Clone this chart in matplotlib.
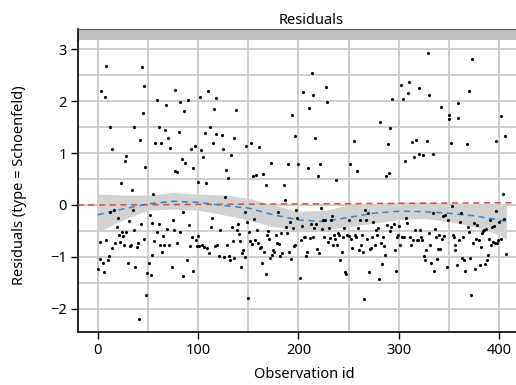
import matplotlib
matplotlib.use("Agg")
import matplotlib.pyplot as plt

plt.rcParams['font.family'] = ['Noto Sans', 'DejaVu Sans']

# Schoenfeld residuals (observation id, residual)
obs_id = [0, 3, 2, 2, 5, 7, 6, 8, 8, 10, 11, 12, 12, 14, 14, 16, 17, 19, 20, 21,
          22, 23, 24, 25, 26, 27, 28, 28, 30, 31, 32, 33, 34, 35, 36, 36, 37, 39, 40, 41,
          42, 43, 44, 45, 46, 46, 47, 48, 49,
          51, 52, 53, 54, 54, 55, 56, 57, 59, 59, 61, 61, 62, 63, 64, 65, 66, 67, 68, 69,
          70, 71, 72, 74, 75, 76, 77, 77, 79, 79, 81, 82, 82, 84, 85, 85, 86, 87, 89, 90,
          91, 92, 93, 94, 95, 95, 97, 98, 99, 100,
          100, 101, 102, 103, 104, 105, 106, 107, 108, 109, 110, 111, 112, 113, 114, 115,
          116, 117, 118, 118, 119, 121, 122, 124, 125, 126, 127, 128, 129, 130, 131, 132,
          133, 134, 135, 136, 136, 138, 139, 140, 141, 142, 143, 144, 145, 147, 147, 148, 149,
          150, 151, 152, 153, 154, 155, 156, 157, 158, 159, 160, 161, 162, 163, 164, 165,
          166, 168, 168, 169, 170, 171, 172, 173, 174, 175, 176, 178, 179, 180, 181, 182,
          183, 184, 186, 187, 188, 189, 190, 191, 192, 193, 194, 195, 196, 197, 197, 198, 199,
          200, 201, 202, 203, 204, 205, 206, 207, 208, 209, 210, 211, 212, 213, 214, 214,
          215, 216, 217, 218, 219, 220, 221, 222, 223, 224, 225, 226, 227, 228, 229, 230,
          231, 232, 233, 234, 235, 236, 237, 238, 239, 240, 241, 243, 244, 245, 246, 247,
          248, 250, 250,
          251, 252, 253, 255, 256, 257, 258, 259, 260, 261, 262, 263, 264, 265, 266, 267,
          268, 269, 270, 271, 272, 273, 274, 276, 277, 278, 279, 280, 281, 282, 283, 284,
          285, 286, 287, 288, 289, 290, 291, 291, 292, 293, 295, 296, 297, 298, 299, 300,
          301, 302, 303, 304, 305, 306, 307, 308, 309, 310, 311, 312, 313, 314, 315, 316,
          317, 318, 319, 320, 320, 321, 322, 323, 324, 325, 326, 327, 328, 329, 330, 330,
          331, 332, 334, 334, 335, 336, 337, 338, 339, 340, 341, 342, 343, 344, 345, 346,
          348, 349,
          350, 350, 352, 353, 354, 355, 356, 356, 358, 359, 359, 360, 361, 362, 363, 364,
          365, 366, 368, 369, 370, 370, 371, 372, 373, 374, 375, 376, 377, 378, 380, 381,
          382, 383, 384, 385, 386, 387, 388, 389, 390, 391, 392, 393, 394, 395, 396, 397,
          397, 398, 399, 400, 402, 402, 404, 405, 406, 407]
residual = [-1.24, 2.2, -0.71, -1.05, -1.12, 2.09, -1.30, 2.68, -0.67, -1.06, -0.98, 1.5, -0.13,
            1.08, -0.83, -0.10, -0.74, -0.43, -0.26, -0.58, -0.72, 0.43, -0.53, -0.60, -0.78,
            0.84, 0.94, -0.53, -1.12, -0.31, -0.80, -0.78, 0.29, -0.10, -0.48, 1.5, -1.19,
            -0.82, -0.74, -2.19, 1.25, -0.37, 2.65, 1.77, -0.65, 2.29, 0.73, -1.74, -1.32,
            -1.12, -0.19, -1.35, -0.96, -0.34, 0.21, -0.69, 1.19, 2.02, -0.53, 1.5, -0.37,
            -0.77, 1.2, -0.91, -0.60, -0.77, 1.44, 1.92, -0.46, 1.30, -0.77, 1.09, -1.20,
            -0.29, -0.48, 2.21, 0.66, 0.63, -0.74, 1.40, -0.52, 1.99, 0.89, -0.14, -1.37,
            1.82, 0.80, -1.07, 2.02, -0.39, -0.80, 1.07, -0.62, -1.28, 0.71, 1.14, -0.67,
            -0.80, -0.60,
            0.45, -0.80, 2.08, 1.06, -0.77, 0.92, -0.82, 1.39, 0.42, -0.83, 2.2, -0.92, 1.5,
            -0.42, -0.26, 1.2, 1.84, -0.80, 1.36, 2.07, -0.77, -0.98, -0.49, 1.35, 1.08,
            -1.01, 0.15, 0.67, -0.78, 0.51, -0.99, -1.07, 0.96, -0.42, -0.69, -1.03, 1.30,
            1.83, -0.48, -0.37, -0.56, -0.69, -1.19, -0.93, -0.87, -1.01, -0.13, 1.14, -0.33,
            -1.80, -0.53, -0.69, 1.19, -0.76, 0.56, -0.28, -0.67, 0.58, -0.49, -0.74, 1.12,
            -0.83, -0.82, -1.12, 0.59, -0.91, 0.39, -1.33, -0.58, -0.51, -0.66, -1.03, 0.80,
            -0.96, -0.87, -0.91, -0.58, -0.74, -0.14, -0.76, -0.99, -0.55, -0.93, 0.39, 0.10,
            -0.42, -0.55, 0.78, -0.90, -0.32, -1.05, 1.73, -0.45, -0.80, -0.77, 1.32, -0.10,
            -0.26,
            0.78, -1.41, -0.67, -0.40, 2.18, -0.61, -0.62, -0.99, -0.90, 0.71, 1.87, -0.64,
            -0.37, 2.55, -0.61, 2.12, -0.45, 1.30, -0.37, -0.85, 0.56, -0.93, 0.78, -0.06,
            -0.47, -0.30, -0.62, -0.29, 2.28, 1.99, -0.71, -0.45, -0.64, -0.29, -0.21, -0.77,
            -0.58, -0.66, 0.49, -0.77, -0.55, -0.58, -1.07, -0.91, -0.61, -0.45, -1.30, -1.33,
            -0.58, -0.29, -0.60,
            0.78, -0.66, -0.84, 1.23, -0.58, -0.61, 0.65, -0.45, -0.87, -0.29, -0.77, -0.58,
            -0.91, -1.82, -0.10, -0.29, -0.65, -0.16, -1.30, -0.85, -0.83, -0.61, -0.32, -0.77,
            -0.48, -0.58, -0.45, -1.42, 1.59, -0.74, -1.14, -0.61, -0.80, -0.96, 0.55, -0.39,
            1.17, 0.61, -0.50, 1.48, -0.42, 2.05, -0.37, -0.87, -1.28, -0.61, -0.58, -0.40,
            -0.77, 2.32, -0.61, 2.05, -0.61, 0.84, -0.26, -0.35, 2.15, 2.37, -0.61, -0.78,
            1.22, -0.67, 0.93, -0.48, 1.25, -0.67, -0.67, 2.25, 0.99, -0.48, -0.61, -0.67,
            0.96, -0.98, -1.06, -0.87, 1.24, 2.92, -0.55, 2.12, -0.78, -1.12, -0.16, 0.99,
            -1.28, -0.47, -0.61, -1.05, -0.85, -0.58, -0.85, 1.89, -0.65, -0.22, -0.60, -0.19,
            -1.19, -0.29,
            1.73, 1.65, 1.19, -0.03, -0.58, -0.61, -0.87, -0.78, -1.16, 1.68, 1.97, -0.67,
            -0.32, -0.16, -1.03, -0.62, -1.06, -1.28, 1.17, -0.43, 2.20, -0.53, -1.03, -1.73,
            2.82, -0.74, -0.35, -1.24, -0.66, -0.39, -0.67, -1.16, -0.82, -0.55, -0.51, -0.48,
            -1.14, -0.47, -1.06, -0.96, -0.66, -0.30, -0.77, -0.42, -0.71, -0.40, -0.74, 1.23,
            -0.11, -0.74, -0.67, -0.32, 1.72, -0.66, 0.21, -0.28, 1.32, -0.94]

# loess smooth with confidence band
smooth_x = [0, 25, 50, 75, 100, 125, 150, 175, 200, 225, 250, 275, 300, 325, 350, 375, 400, 407]
smooth_y = [-0.19, -0.08, 0.02, 0.07, 0.05, -0.01, -0.06, -0.19, -0.29, -0.32, -0.24, -0.16,
            -0.12, -0.13, -0.16, -0.21, -0.29, -0.32]
band_hi = [0.21, 0.19, 0.19, 0.24, 0.21, 0.19, 0.13, 0.0, -0.12, -0.11, 0.0, 0.02, 0.06, 0.06,
           0.04, 0.02, 0.02, 0.02]
band_lo = [-0.53, -0.29, -0.10, -0.08, -0.10, -0.19, -0.29, -0.42, -0.48, -0.48, -0.42, -0.35,
           -0.28, -0.26, -0.32, -0.42, -0.58, -0.67]

# linear trend line
trend_x = [-20, 445]
trend_y = [-0.003, 0.045]

W, H = 516, 385
fig = plt.figure(figsize=(W / 100, H / 100), dpi=100)


def fx(px):
    return px / W


def fy(py):
    return 1 - py / H


ax = fig.add_axes([fx(78), fy(332), fx(544) - fx(78), fy(40) - fy(332)])
ax.set_xlim(-19.6, 444.5)
ax.set_ylim(-2.45, 3.18)

grid_c = '#c9c9c9'
for gx in range(0, 451, 50):
    ax.axvline(gx, color=grid_c, lw=1.3, zorder=1)
for gy in [-2, -1.5, -1, -0.5, 0, 0.5, 1, 1.5, 2, 2.5, 3]:
    ax.axhline(gy, color=grid_c, lw=1.3, zorder=1)

ax.fill_between(smooth_x, band_lo, band_hi, color='#d2d2d2', lw=0, zorder=2)
ax.plot(trend_x, trend_y, color='#e0483c', lw=1.1, ls=(0, (4, 3)), zorder=3)
ax.plot(smooth_x, smooth_y, color='#2f86d0', lw=1.1, ls=(0, (4, 3)), zorder=3)
ax.scatter(obs_id, residual, s=5, color='black', lw=0, zorder=4)

ax.set_xticks([0, 100, 200, 300, 400])
ax.set_yticks([-2, -1, 0, 1, 2, 3])
ax.set_yticklabels(['\u22122', '\u22121', '0', '1', '2', '3'])
ax.tick_params(direction='out', length=5, width=1, labelsize=10.5, pad=3)
for side in ['top', 'right']:
    ax.spines[side].set_visible(False)
ax.spines['left'].set_linewidth(1.2)
ax.spines['bottom'].set_linewidth(1.2)

# strip above the panel
strip = fig.add_axes([fx(78), fy(40), fx(544) - fx(78), fy(29) - fy(40)])
strip.set_facecolor('#c0c0c0')
strip.set_xticks([])
strip.set_yticks([])
for side in ['right', 'bottom']:
    strip.spines[side].set_visible(False)
strip.spines['top'].set_color('#555555')
strip.spines['left'].set_linewidth(1.2)

fig.text(fx(311), fy(21), 'Residuals', ha='center', va='center', fontsize=10.5)
fig.text(fx(304), fy(375), 'Observation id', ha='center', va='center', fontsize=10.5)
fig.text(fx(20), fy(185), 'Residuals (type = Schoenfeld)', ha='center', va='center',
         rotation=90, fontsize=10.5)

fig.savefig('out.png', dpi=100)
